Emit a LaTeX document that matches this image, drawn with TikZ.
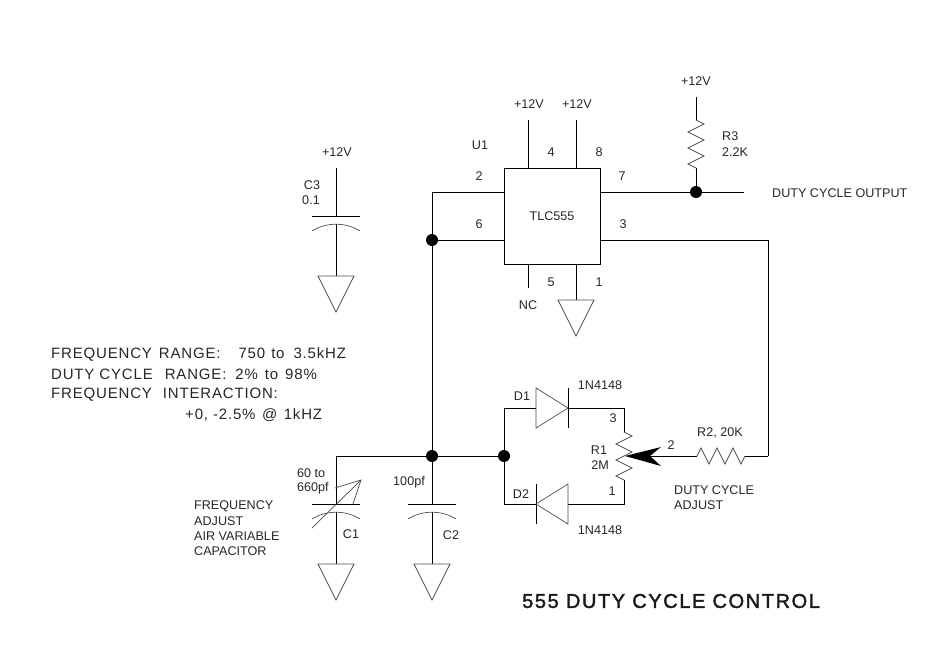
\documentclass[tikz,border=0pt]{standalone}
\usepackage{fontspec}
\setmainfont{Liberation Sans}
\newfontfamily\notefont[LetterSpace=5.5]{Liberation Sans}
\newfontfamily\titlefont[LetterSpace=8, FakeBold=1.8]{Liberation Sans}
\usetikzlibrary{calc}

\tikzset{
	wire/.style = {line width = 0.9pt, black},
	thinpart/.style = {line width = 0.7pt, black!70},
	dot/.style = {circle, fill = black, inner sep = 0pt, minimum size = 12pt},
	lbl/.style = {inner sep = 0pt, font = \fontsize{12.6}{14}\selectfont, text = black!85},
	lblleft/.style = {lbl, anchor = west},
	noteleft/.style = {inner sep = 0pt, anchor = west, font = \fontsize{15}{18}\notefont, text = black!85},
}

\newcommand{\gnd}[1]{\draw [thinpart] (#1) -- ++(-18,0) -- ++(18,36) -- ++(18,-36) -- cycle;}
\newcommand{\cplate}[1]{
	\draw [wire] ($ (#1) + (-24,0) $) -- ($ (#1) + (24,0) $);
	\draw [thinpart] ($ (#1) + (-24,15) $) .. controls ($ (#1) + (-10,6) $) and ($ (#1) + (10,6) $) .. ($ (#1) + (24,15) $);
}
\newcommand{\vres}[2]{\draw [thinpart] (#1) -- ++(8,4) -- ++(-16,8) -- ++(16,8) -- ++(-16,8) -- ++(16,8) -- ++(-16,8) -- (#2);}

\begin{document}
\begin{tikzpicture}[x=1pt, y=-1pt]
	\useasboundingbox (0,0) rectangle (936,648);

	% the chip
	\node [draw, line width = 0.9pt, minimum size = 96pt, inner sep = 0pt, font = \fontsize{12.6}{14}\selectfont, text = black!85] (chip) at (552,216) {TLC555};

	\coordinate (pin 4) at (528,168);
	\coordinate (pin 8) at (576,168);
	\coordinate (pin 5) at (528,264);
	\coordinate (pin 1) at (576,264);
	\coordinate (pin 2) at (504,192);
	\coordinate (pin 6) at (504,240);
	\coordinate (pin 7) at (600,192);
	\coordinate (pin 3) at (600,240);

	\coordinate (rail 4) at (528,120);
	\coordinate (rail 8) at (576,120);
	\coordinate (nc end) at (528,288);
	\coordinate (chip gnd) at (576,300);
	\coordinate (top left) at (432,192);
	\coordinate (output end) at (744,192);
	\coordinate (top right) at (768,240);
	\coordinate (bottom right) at (768,456);

	\node [dot] (out dot) at (696,192) {};
	\node [dot] (timing dot) at (432,240) {};
	\node [dot] (main dot) at (432,456) {};
	\node [dot] (diode dot) at (504,456) {};

	\coordinate (r3 rail) at (696,97);
	\coordinate (r3 top) at (696,120);
	\coordinate (r3 bottom) at (696,168);

	% pins
	\begin{scope}[wire]
		\draw (pin 4) -- (rail 4);
		\draw (pin 8) -- (rail 8);
		\draw (pin 5) -- (nc end);
		\draw (pin 1) -- (chip gnd);
		\draw (pin 7) -- (out dot) -- (output end);
		\draw (pin 2) -- (top left) -- (timing dot) -- (main dot);
		\draw (pin 6) -- (timing dot);
		\draw (pin 3) -- (top right) -- (bottom right);
		\draw (r3 rail) -- (r3 top);
		\draw (r3 bottom) -- (out dot);
	\end{scope}
	\vres{r3 top}{r3 bottom}
	\gnd{chip gnd}

	% capacitors
	\coordinate (c3 rail) at (336,168);
	\coordinate (c3 plate) at (336,216);
	\coordinate (c3 lower) at (336,224);
	\coordinate (c3 gnd) at (336,276);
	\coordinate (c1 corner) at (336,456);
	\coordinate (c1 plate) at (336,504);
	\coordinate (c1 lower) at (336,512);
	\coordinate (c1 gnd) at (336,564);
	\coordinate (c2 plate) at (432,504);
	\coordinate (c2 lower) at (432,512);
	\coordinate (c2 gnd) at (432,564);

	\begin{scope}[wire]
		\draw (c3 rail) -- (c3 plate);
		\draw (c3 lower) -- (c3 gnd);
		\draw (c1 plate) -- (c1 corner) -- (main dot) -- (diode dot);
		\draw (c1 lower) -- (c1 gnd);
		\draw (main dot) -- (c2 plate);
		\draw (c2 lower) -- (c2 gnd);
	\end{scope}
	\foreach \c in {c3 plate, c1 plate, c2 plate} {\cplate{\c}}
	\foreach \c in {c3 gnd, c1 gnd, c2 gnd} {\gnd{\c}}

	\coordinate (trim tail) at (312,528);
	\coordinate (trim tip) at (361,480);
	\coordinate (trim a) at (335,488);
	\coordinate (trim b) at (353,504);
	\draw [thinpart] (trim tail) -- (trim tip);
	\draw [thinpart] (trim a) -- (trim tip) -- (trim b);

	% diodes and the pot
	\coordinate (d1 wire) at (504,408);
	\coordinate (d1 left) at (536,408);
	\coordinate (d1 tip) at (568,408);
	\coordinate (pot corner top) at (624,408);
	\coordinate (pot top) at (624,432);
	\coordinate (pot bottom) at (624,480);
	\coordinate (pot corner bottom) at (624,504);
	\coordinate (d2 right) at (568,504);
	\coordinate (d2 tip) at (536,504);
	\coordinate (d2 wire) at (504,504);

	\begin{scope}[wire]
		\draw (d1 left) -- (d1 wire) -- (diode dot) -- (d2 wire) -- (d2 tip);
		\draw (d1 tip) -- (pot corner top) -- (pot top);
		\draw (pot bottom) -- (pot corner bottom) -- (d2 right);
		\draw ($ (d1 tip) + (0,-20) $) -- ($ (d1 tip) + (0,20) $);
		\draw ($ (d2 tip) + (0,-20) $) -- ($ (d2 tip) + (0,20) $);
	\end{scope}
	\draw [thinpart] ($ (d1 left) + (0,-20) $) -- (d1 tip) -- ($ (d1 left) + (0,20) $) -- cycle;
	\draw [thinpart] ($ (d2 right) + (0,-20) $) -- (d2 tip) -- ($ (d2 right) + (0,20) $) -- cycle;
	\vres{pot top}{pot bottom}

	% wiper and R2
	\coordinate (wiper tip) at (625,456);
	\coordinate (wiper notch) at (650,456);
	\coordinate (r2 left) at (697,456);
	\coordinate (r2 right) at (745,456);
	\fill (wiper tip) -- (661,447) -- (wiper notch) -- (661,466) -- cycle;
	\draw [wire] (wiper notch) -- (r2 left);
	\draw [wire] (r2 right) -- (bottom right);
	\draw [thinpart] (r2 left) -- ++(4,-8) -- ++(8,16) -- ++(8,-16) -- ++(8,16) -- ++(8,-16) -- ++(8,16) -- (r2 right);

	% labels
	\node [lbl] (vc3) at (337,152) {+12V};
	\node [lbl] (vp4) at (529,104) {+12V};
	\node [lbl] (vp8) at (577,104) {+12V};
	\node [lbl] (vr3) at (696,81) {+12V};
	\node [lbl] (c3 name) at (312,185) {C3};
	\node [lbl] (c3 val) at (311,200) {0.1};
	\node [lbl] (u1) at (480,145) {U1};
	\node [lbl] (n4) at (551,152) {4};
	\node [lbl] (n8) at (599,152) {8};
	\node [lbl] (n2) at (479,176) {2};
	\node [lbl] (n6) at (479,224) {6};
	\node [lbl] (n7) at (622,176) {7};
	\node [lbl] (n3) at (623,224) {3};
	\node [lbl] (n5) at (551,282) {5};
	\node [lbl] (n1) at (599,282) {1};
	\node [lbl] (nc) at (528,305) {NC};
	\node [lblleft] (r3 name) at (722,136) {R3};
	\node [lblleft] (r3 val) at (722,152) {2.2K};
	\node [lblleft] (out name) at (772,193) {DUTY CYCLE OUTPUT};

	\node [noteleft] (note a) at (51,354.5) {FREQUENCY\hspace{2pt} RANGE:\hspace{13pt} 750\hspace{1pt} to\hspace{4pt} 3.5kHZ};
	\node [noteleft] (note b) at (51,374.5) {DUTY CYCLE\hspace{7pt} RANGE:\hspace{4pt} 2\%\hspace{2pt} to\hspace{2pt} 98\%};
	\node [noteleft] (note c) at (51,395) {FREQUENCY\hspace{6pt} INTERACTION:};
	\node [noteleft] (note d) at (185,415) {+0, -2.5\%\hspace{1.5pt} @\hspace{1.5pt} 1kHZ};

	\node [lblleft] (c1 val a) at (297,473) {60 to};
	\node [lblleft] (c1 val b) at (297,488) {660pf};
	\node [lblleft] (adj a) at (194,506) {FREQUENCY};
	\node [lblleft] (adj b) at (194,521) {ADJUST};
	\node [lblleft] (adj c) at (194,536) {AIR VARIABLE};
	\node [lblleft] (adj d) at (194,551) {CAPACITOR};
	\node [lbl] (c1 name) at (351,534) {C1};
	\node [lbl] (c2 name) at (451,535) {C2};
	\node [lbl] (c2 val) at (409,482) {100pf};
	\node [lbl] (d1 name) at (522,396) {D1};
	\node [lbl] (d2 name) at (521,494) {D2};
	\node [lbl] (d1 val) at (600,385) {1N4148};
	\node [lbl] (d2 val) at (600,530) {1N4148};
	\node [lbl] (t3) at (613,418) {3};
	\node [lbl] (t1) at (612,491) {1};
	\node [lbl] (r1 name) at (599,450) {R1};
	\node [lbl] (r1 val) at (600,465) {2M};
	\node [lbl] (t2) at (671,445) {2};
	\node [lbl] (r2 name) at (720,433) {R2, 20K};
	\node [lblleft] (wiper a) at (674,490) {DUTY CYCLE};
	\node [lblleft] (wiper b) at (674,505) {ADJUST};

	\node [inner sep = 0pt, anchor = west, font = \fontsize{20}{24}\titlefont, text = black!90] (title) at (522,601) {555 DUTY CYCLE CONTROL};
\end{tikzpicture}
\end{document}
